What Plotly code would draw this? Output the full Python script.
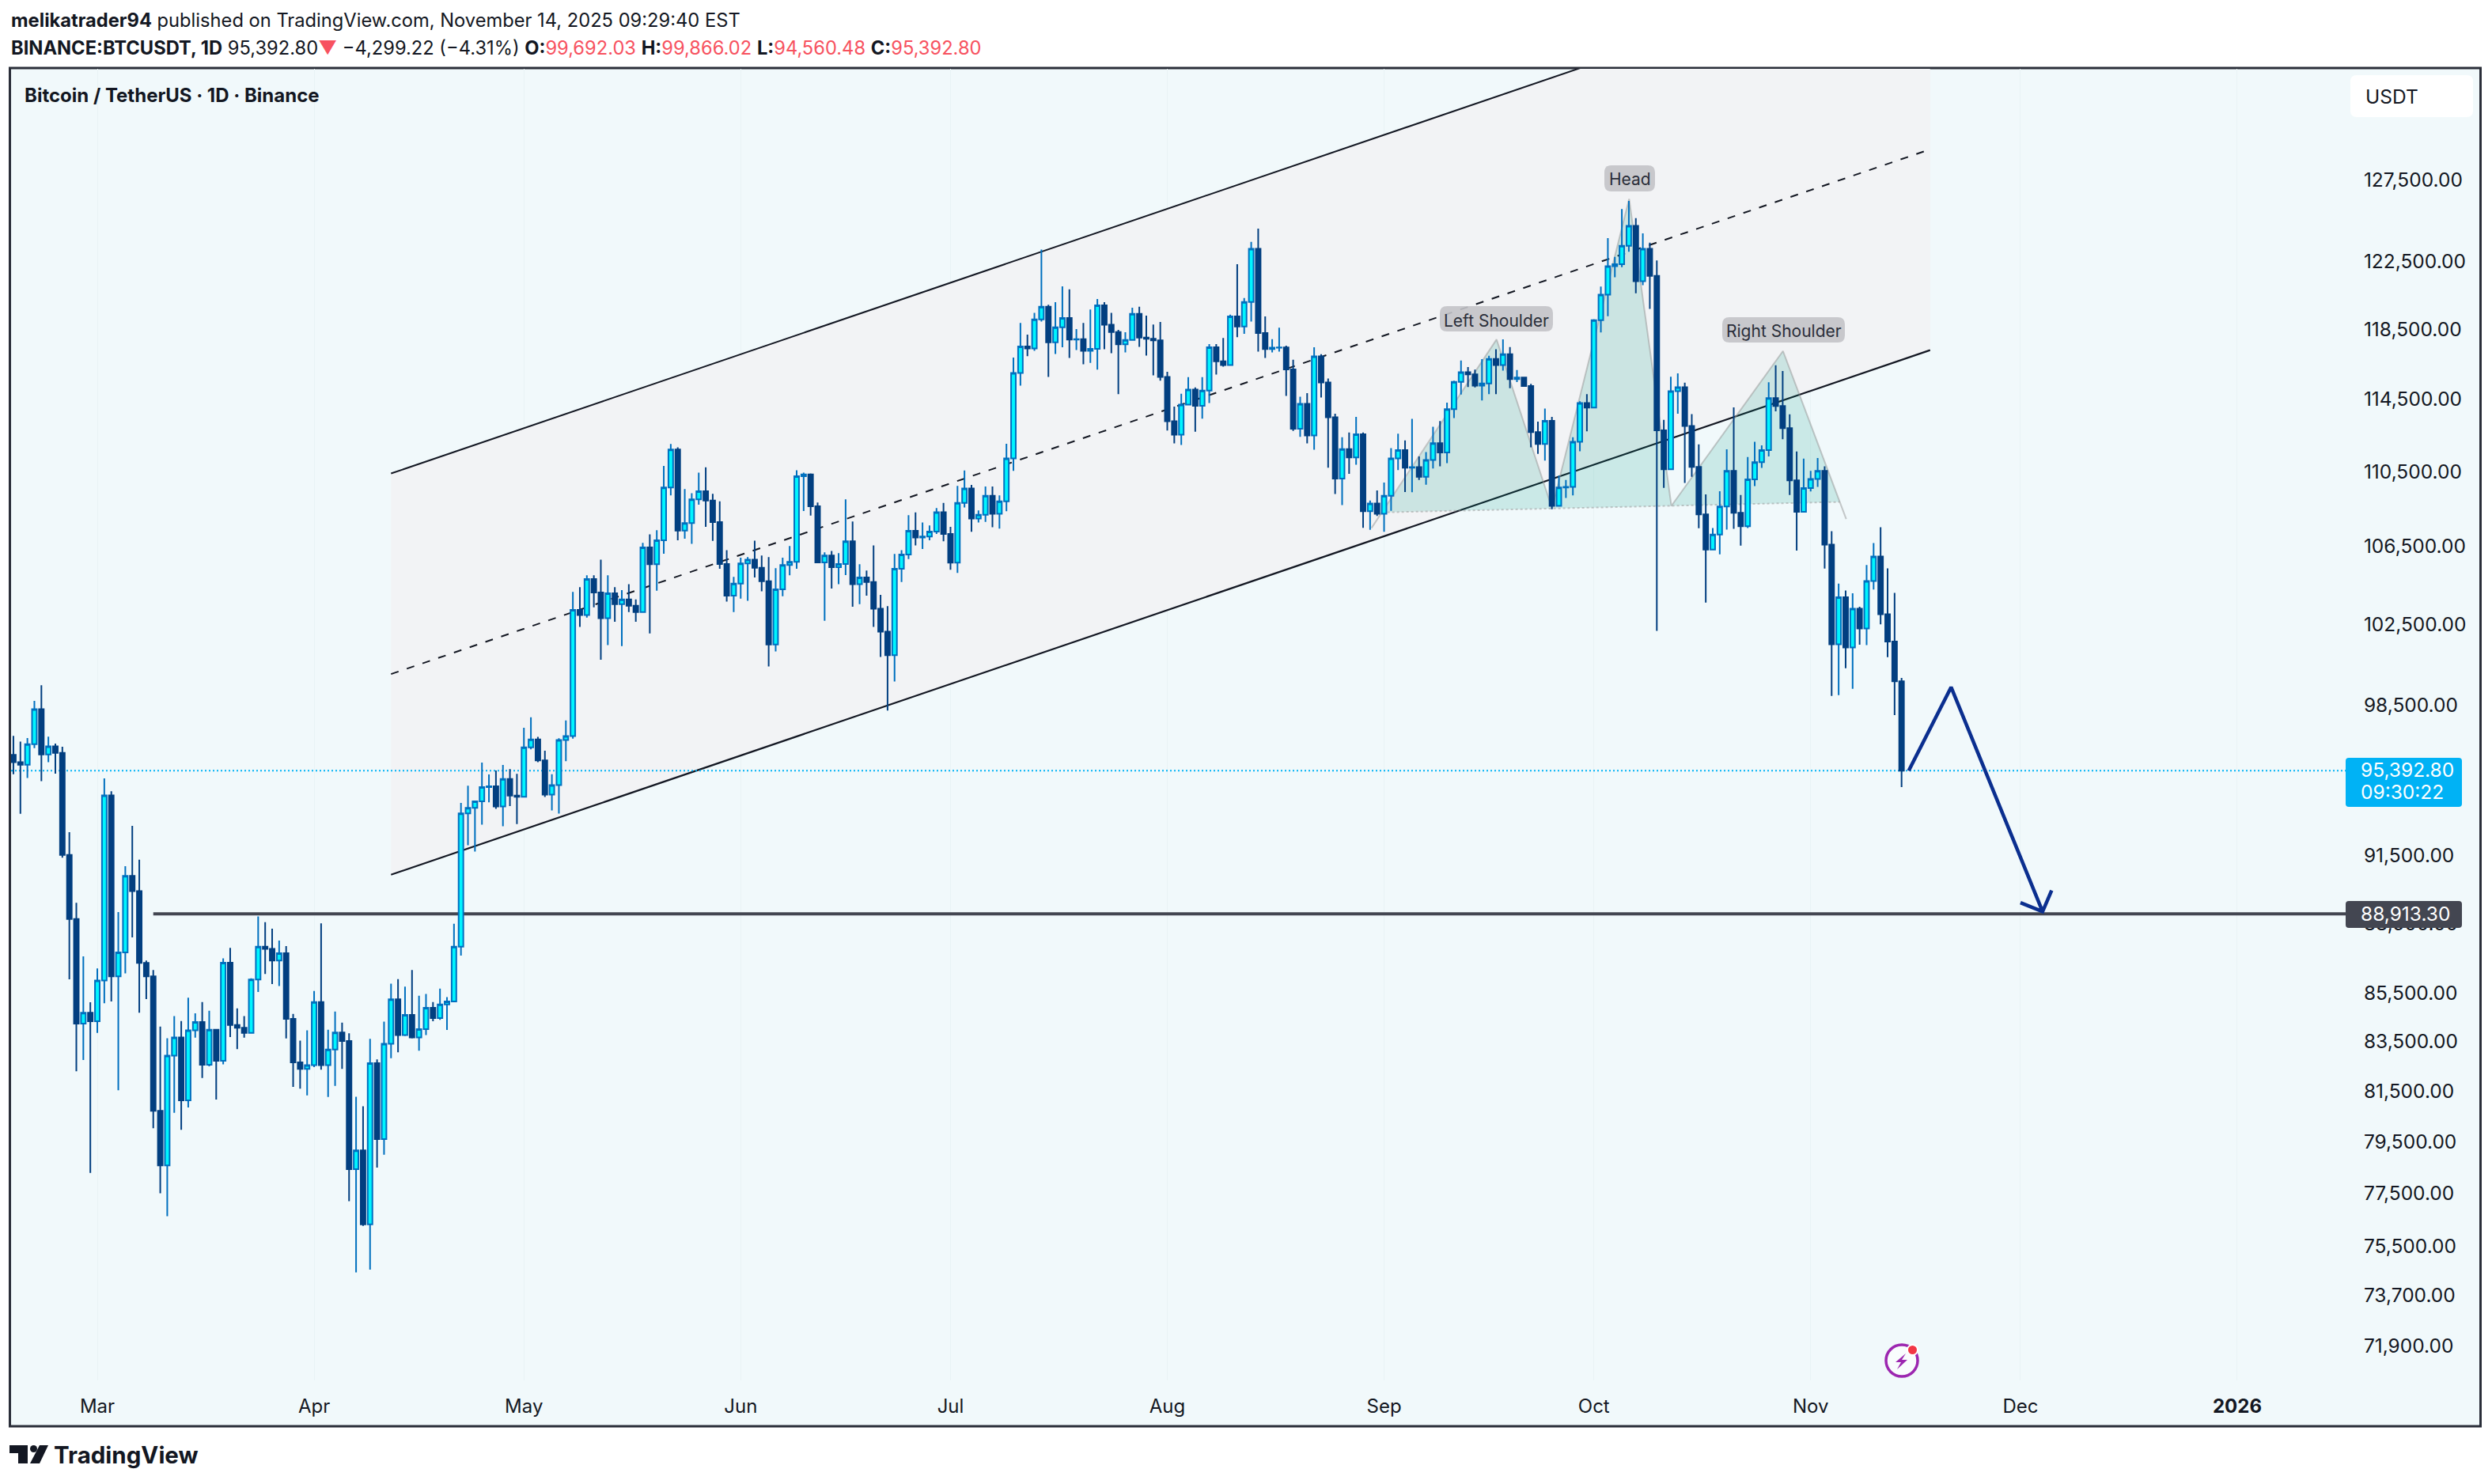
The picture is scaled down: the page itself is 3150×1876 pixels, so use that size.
import pandas as pd
import plotly.graph_objects as go

# ---------- values ----------
FIRST_DAY = "2025-02-17"
FIRST_OPEN = 96020
closes = [95680,95560,96530,98200,96040,96420,96110,91410,88580,84140,84590,84240,85940,94130,86120,87140,90480,89800,86690,86120,
80610,78480,82830,83570,81030,83860,84210,82460,83890,82620,86700,84080,83970,83760,85980,87380,87290,86790,87100,84340,
82550,82290,82440,85040,82440,83080,83770,83420,78330,79060,76240,82520,79500,83310,85150,83670,84500,83570,83910,84800,
84370,84940,85060,87380,93300,93550,93850,94510,94550,93620,94890,94120,94060,96380,96750,95760,94160,94600,96720,96910,
103110,102850,104690,104000,102690,103960,103400,103640,103320,103000,106330,105450,106700,109500,111570,107210,107610,108870,109300,108800,
107660,105460,103840,104450,105490,105690,105270,104570,101370,104160,105410,105580,110110,110210,108500,105540,105900,105300,105460,106650,
104420,104770,104530,103170,102010,100840,105220,105960,107200,106850,106900,107160,108180,107030,105530,108680,109450,107850,108050,109060,
108100,108760,111080,115840,117360,117250,118930,119680,117600,118470,119020,117760,117780,117110,117230,119760,118620,118200,117490,117740,
119260,117880,117810,117720,115620,113130,112380,114060,114900,113990,114850,117320,116510,116300,119110,118520,119960,123130,118140,117210,
117290,117310,116050,112710,114100,112340,116790,115300,113350,109980,111590,111130,112410,108230,108650,108100,109060,111080,111540,110570,
110610,110080,110990,111910,111400,113800,115340,115890,115760,115130,115250,116650,116300,116920,115490,115580,115100,112530,111870,113150,
108520,109510,109540,111990,114150,113890,118890,120390,122080,122210,123320,124530,121190,123130,121510,112620,110490,114810,115040,112870,
110620,108070,106210,107000,108490,110400,108150,107440,109940,110880,111540,114420,113980,112750,109890,108200,109470,109960,110400,106470,
101380,103750,101220,103170,102170,104580,105850,102890,101520,99560,95280]
highs = [96920,96650,96820,98600,99365,96880,96550,96400,92440,89290,86970,85030,86450,94920,94320,88880,90910,92730,91200,86790,
86390,84020,83540,84450,84250,85220,84570,85040,84670,83920,86880,87330,84770,84450,86030,88690,88440,88160,87650,87410,
84540,83440,83860,85500,88390,83890,84640,84180,83740,81170,80790,83510,82670,84220,85810,86000,85680,86390,85300,85380,
85040,85600,85240,88370,93780,94580,93860,95660,95100,95290,95550,95350,95130,97310,97810,96870,96220,95110,96810,97660,
104030,104270,104880,104880,105690,104880,104270,104120,104420,103640,106560,107010,107230,110670,111870,111690,109420,109200,110310,110600,
109160,108760,106180,104800,105790,105820,106680,105900,105820,105250,105790,106400,110430,110310,110260,108700,106070,106140,106030,108870,
107690,105450,105120,106430,103880,103300,105990,106180,108030,108170,107640,107480,108400,108680,107410,109590,110420,109640,108280,109560,
109560,109080,111880,116730,118730,118050,119320,123090,119790,119950,120880,120700,118370,118730,119510,120130,119950,119320,118330,118190,
119620,119680,119150,118640,118780,115910,113950,114670,115610,115020,115610,117500,117500,117850,119210,122200,120190,123550,124360,119110,
117780,118450,117410,116600,114500,114700,117320,116920,115530,113550,112240,112500,113370,112500,108800,109350,109770,111640,112440,112070,
113260,111190,111430,112820,113140,114170,115400,116560,116180,116040,116630,116830,117200,117770,117330,116010,115620,115230,113110,113830,
113370,110150,109910,112240,114240,114650,118950,120870,123780,122650,125560,126070,125000,124070,123510,122430,113210,115630,115820,115290,
113520,111850,109130,107340,109300,111580,113900,109100,111160,111990,111800,115320,116280,115960,113510,111460,111070,110400,111100,110650,
107180,104450,104100,103960,103270,105410,106550,107390,105240,103980,99720]
lows = [95110,93280,94940,96340,94790,95680,95140,91290,85990,82190,82650,78190,83760,84990,85060,81430,86240,87780,84590,85160,
79920,77410,76540,80530,79860,80740,83560,81920,82390,81060,82470,83590,83090,83560,83760,85460,86220,85790,85710,83530,
81560,81490,81220,82360,82260,81160,81600,82290,77110,74460,76180,74560,78390,78890,82720,82960,83630,83530,83030,83670,
84240,84300,83880,85060,87000,91850,91560,92780,93810,93510,92710,93630,92810,94030,96280,95680,94050,93430,93290,95720,
96790,102250,102720,103240,100620,101340,102510,101290,103000,102510,103020,101930,104090,106000,109080,106700,106780,106510,108580,107410,
106670,105220,103530,103000,103680,103570,104770,104060,100280,101030,103810,104880,105220,108250,108000,105540,102560,104200,104420,104890,
103270,103400,103840,102250,100750,98130,99550,104530,105720,106430,106240,106700,107030,106650,105170,105000,108430,107150,107640,107670,
107390,107310,108230,110400,115130,116800,117110,118810,115620,116930,117320,116700,117160,116340,116420,116030,117200,116980,114640,117020,
117700,117340,116840,115710,115410,112610,111900,111820,114040,112550,113270,114150,115750,116210,116280,117900,118090,118810,117070,116700,
117020,117070,114540,112590,112260,111900,111560,114460,110570,109150,108560,110240,110740,107360,107250,107980,107150,108260,110450,109260,
109250,109910,109650,110530,110650,110820,113300,114620,115050,115030,114290,114640,114640,115980,114980,115330,115070,111690,111330,110960,
108340,108520,108940,109080,111470,112570,113920,118170,119120,121420,122030,122950,120470,120950,119550,102050,109480,110510,113550,109750,
110080,107330,103480,106170,105970,107260,107300,106420,107340,109580,110560,111190,113680,112130,109100,106160,108160,109290,109540,105230,
98840,98880,100200,99190,101360,101340,104150,102380,100740,97920,94510]
assert len(closes) == len(highs) == len(lows) == 271

month_days = ["2025-03-01","2025-04-01","2025-05-01","2025-06-01","2025-07-01","2025-08-01","2025-09-01","2025-10-01","2025-11-01","2025-12-01","2026-01-01"]
month_labels = ["Mar","Apr","May","Jun","Jul","Aug","Sep","Oct","Nov","Dec","<b>2026</b>"]
price_ticks = [127500,122500,118500,114500,110500,106500,102500,98500,91500,88500,85500,83500,81500,79500,77500,75500,73700,71900]

chan_x = ["2025-04-12", "2025-11-18 02:00"]
chan_lower = [90530, 117150]
chan_middle = [99910, 129300]
chan_upper = [110260, 142700]

support_x = ["2025-03-09", "2026-01-16 12:00"]
support_level = [88800, 88800]
last_x = ["2025-02-16 16:00", "2026-01-16 12:00"]
last_level = [95280, 95280]

hs_x = ["2025-08-30 05:00","2025-09-17 02:00","2025-09-25 00:30","2025-10-06 01:00","2025-10-12 02:00","2025-10-28 01:00","2025-11-06 02:00"]
hs_y = [107350,117770,108380,126190,108520,117100,107820]
left_x = ["2025-08-31 19:00","2025-09-17 02:00","2025-09-25 00:30"]
left_y = [108170,117770,108380]
head_x = ["2025-09-25 00:30","2025-10-06 01:00","2025-10-12 02:00"]
head_y = [108380,126190,108520]
right_x = ["2025-10-12 02:00","2025-10-28 01:00","2025-11-05 04:00"]
right_y = [108520,117100,108730]
neck_x = ["2025-08-31 19:00","2025-11-05 04:00"]
neck_y = [108170,108730]

arrow_x = ["2025-11-15 00:30","2025-11-21 02:00","2025-12-04 04:00","2025-12-01","2025-12-04 04:00","2025-12-05 11:00"]
arrow_y = [95280,99270,88900,89290,88900,89830]

# ---------- geometry and styling ----------
W, H = 3150, 1876
L, R, T, B = 14, 2965, 87, 1745
X_RANGE = ["2025-02-16 16:00", "2026-01-16 12:00"]
Y_RANGE = [4.84886, 5.12879]
BG = "#F1F9FB"; INK = "#131722"; RED = "#F7525F"
FONT = "Inter"

def px(x): return (x - L) / (R - L)
def py(y): return (B - y) / (B - T)

def round_rect(x0, y0, x1, y1, r, fill, line=None, layer="above"):
    a, b, c, d = px(x0), py(y0), px(x1), py(y1)
    rx = r / (R - L); ry = r / (B - T)
    path = (f"M{a+rx},{b} L{c-rx},{b} Q{c},{b} {c},{b-ry} L{c},{d+ry} Q{c},{d} {c-rx},{d} "
            f"L{a+rx},{d} Q{a},{d} {a},{d+ry} L{a},{b-ry} Q{a},{b} {a+rx},{b} Z")
    return dict(type="path", xref="paper", yref="paper", path=path, fillcolor=fill,
                line=dict(width=0), layer=layer)

def poly(pts, fill):
    path = "M" + " L".join(f"{px(x)},{py(y)}" for x, y in pts) + " Z"
    return dict(type="path", xref="paper", yref="paper", path=path, fillcolor=fill,
                line=dict(width=0), layer="above")

def text(x, y, s, size=24, color=INK, anchor="left", family=FONT):
    return dict(xref="paper", yref="paper", x=px(x), y=py(y), text=s, showarrow=False,
                xanchor=anchor, yanchor="middle", align="left",
                font=dict(family=family, size=size, color=color))

dates = pd.date_range(FIRST_DAY, periods=len(closes), freq="D")
opens = [FIRST_OPEN] + closes[:-1]

fig = go.Figure()

def line(x, y, color, width, dash="solid"):
    fig.add_trace(go.Scatter(x=x, y=y, mode="lines", line=dict(color=color, width=width, dash=dash),
                             hoverinfo="skip", showlegend=False))

def area(x, y, color):
    fig.add_trace(go.Scatter(x=x, y=y, mode="lines", fill="toself", fillcolor=color,
                             line=dict(width=0), hoverinfo="skip", showlegend=False))

area([chan_x[0], chan_x[1], chan_x[1], chan_x[0]],
     [chan_lower[0], chan_lower[1], chan_upper[1], chan_upper[0]], "#F2F3F5")
line(chan_x, chan_upper, "#131722", 2)
line(chan_x, chan_middle, "#131722", 2, "10px,11px")
line(chan_x, chan_lower, "#131722", 2.2)
area(left_x, left_y, "rgba(0,150,130,0.16)")
area(head_x, head_y, "rgba(0,150,130,0.16)")
area(right_x, right_y, "rgba(0,150,130,0.16)")
line(hs_x, hs_y, "rgba(150,150,150,0.5)", 2)
line(neck_x, neck_y, "rgba(150,150,150,0.5)", 2, "dot")
line(last_x, last_level, "#00B2F5", 2, "2px,3px")
line(support_x, support_level, "#434651", 4)
line(arrow_x, arrow_y, "#0B2F8F", 4.5)

fig.add_trace(go.Candlestick(
    x=dates, open=opens, high=highs, low=lows, close=closes, xaxis="x2", yaxis="y2",
    increasing=dict(fillcolor="#00F5FF", line=dict(color="#0070BF", width=2)),
    decreasing=dict(fillcolor="#023F80", line=dict(color="#023F80", width=2)),
    whiskerwidth=0, showlegend=False))

shapes = [
    dict(type="rect", xref="paper", yref="paper", x0=px(12.5), y0=py(1803), x1=px(3135.5), y1=py(86),
         fillcolor=BG, line=dict(color="#2A2E39", width=3), layer="below"),
    round_rect(2971, 95, 3126, 148, 8, "#FFFFFF"),
    round_rect(2965, 958, 3112, 1020, 4, "#00B2F5"),
    round_rect(2965, 1139, 3112, 1173, 4, "#434651"),
    round_rect(1820, 387, 1963, 419, 9, "rgba(195,195,200,0.9)"),
    round_rect(2028, 209, 2092, 242, 9, "rgba(195,195,200,0.9)"),
    round_rect(2177, 401, 2332, 433, 9, "rgba(195,195,200,0.9)"),
    # lightning badge
    dict(type="circle", xref="paper", yref="paper", x0=px(2384), y0=py(1740), x1=px(2424), y1=py(1700),
         fillcolor="rgba(255,255,255,0.6)", line=dict(color="#9C27B0", width=3.5), layer="above"),
    poly([(2409,1711),(2396,1722),(2403,1722),(2398,1731),(2411,1719),(2404,1719)], "#9C27B0"),
    dict(type="circle", xref="paper", yref="paper", x0=px(2411), y0=py(1713), x1=px(2424), y1=py(1700),
         fillcolor="#F23645", line=dict(color="#FFFFFF", width=2), layer="above"),
    # wordmark icon
    poly([(12,1827),(35,1827),(35,1850),(23,1850),(23,1837),(12,1837)], INK),
    dict(type="circle", xref="paper", yref="paper", x0=px(38), y0=py(1836), x1=px(47), y1=py(1827),
         fillcolor=INK, line=dict(width=0), layer="above"),
    poly([(50,1827),(61,1827),(50,1850),(38,1850)], INK),
]

annotations = [
    text(12, 26, "<b>melikatrader94</b> published on TradingView.com, November 14, 2025 09:29:40 EST", 23.7),
    text(12, 60, f"<b>BINANCE:BTCUSDT, 1D</b> 95,392.80<span style='color:{RED}'>▼</span> −4,299.22 (−4.31%) "
                 f"<b>O:</b><span style='color:{RED}'>99,692.03</span> <b>H:</b><span style='color:{RED}'>99,866.02</span> "
                 f"<b>L:</b><span style='color:{RED}'>94,560.48</span> <b>C:</b><span style='color:{RED}'>95,392.80</span>", 23.7),
    text(29, 120, "<b>Bitcoin / TetherUS · 1D · Binance</b>", 24),
    text(2988, 122, "USDT", 24.5),
    text(2982, 973, "95,392.80", 24.5, "#FFFFFF"),
    text(2982, 1001, "09:30:22", 24.5, "#FFFFFF"),
    text(2982, 1155, "88,913.30", 24.5, "#FFFFFF"),
    text(1891.5, 405, "Left Shoulder", 21, "#2A2E39", "center"),
    text(2060, 227, "Head", 21, "#2A2E39", "center"),
    text(2254.5, 419, "Right Shoulder", 21, "#2A2E39", "center"),
    text(66, 1839, "<b>TradingView</b>", 29.5),
]

fig.update_layout(
    width=W, height=H, autosize=False, paper_bgcolor="#FFFFFF", plot_bgcolor="rgba(0,0,0,0)",
    margin=dict(l=L, r=W - R, t=T, b=H - B, autoexpand=False, pad=0),
    showlegend=False, boxgap=0.33, boxgroupgap=0, shapes=shapes, annotations=annotations,
    font=dict(family=FONT, color=INK),
    xaxis=dict(type="date", range=X_RANGE, tickmode="array", tickvals=month_days, ticktext=month_labels,
               showgrid=True, gridcolor="#E9F3F5", gridwidth=1, zeroline=False, showline=False,
               ticks="outside", ticklen=11, tickcolor="rgba(0,0,0,0)",
               tickfont=dict(family=FONT, size=24, color=INK), rangeslider=dict(visible=False)),
    yaxis=dict(type="log", range=Y_RANGE, side="right", tickmode="array", tickvals=price_ticks,
               ticktext=[f"{v:,.2f}" for v in price_ticks], showgrid=False, zeroline=False, showline=False,
               ticks="outside", ticklen=17, tickcolor="rgba(0,0,0,0)", ticklabelshift=3,
               tickfont=dict(family=FONT, size=24.5, color=INK)),
    xaxis2=dict(type="date", range=X_RANGE, overlaying="x", visible=False, rangeslider=dict(visible=False)),
    yaxis2=dict(type="log", range=Y_RANGE, overlaying="y", side="right", visible=False),
)

fig.write_html("out.html", config={"displayModeBar": False},
               post_script="document.body.style.margin='0';document.body.style.overflow='hidden';")
